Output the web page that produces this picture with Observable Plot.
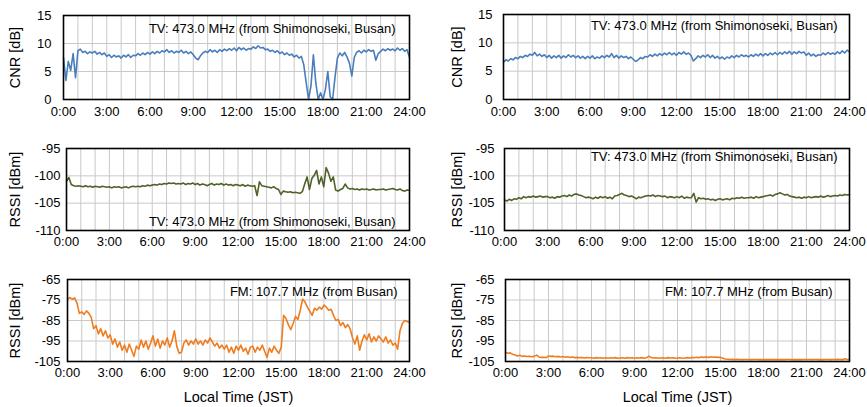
<!DOCTYPE html>
<html>
<head>
<meta charset="utf-8">
<script src="https://cdn.jsdelivr.net/npm/d3@7"></script>
<script src="https://cdn.jsdelivr.net/npm/@observablehq/plot@0.6"></script>
<style>
  html, body { margin: 0; padding: 0; background: #fff; }
  #wrap { position: relative; width: 867px; height: 407px; overflow: hidden; background: #fff; }
  #wrap svg { position: absolute; }
</style>
</head>
<body>
<div id="wrap"></div>
<script>
// ---- Data (10-minute samples, 0:00 .. 24:00) ----
const xTickHours = [0, 3, 6, 9, 12, 15, 18, 21, 24];
const gridHours = [1,2,3,4,5,6,7,8,9,10,11,12,13,14,15,16,17,18,19,20,21,22,23];

const cnrTicks = [0, 5, 10, 15];
const tvRssiTicks = [-110, -105, -100, -95];
const fmRssiTicks = [-105, -95, -85, -75, -65];

const tvLabel = "TV: 473.0 MHz (from Shimonoseki, Busan)";
const fmLabel = "FM: 107.7 MHz (from Busan)";
const cnrTitle = "CNR [dB]";
const rssiTitle = "RSSI [dBm]";
const xTitle = "Local Time (JST)";

// Left column (site 1)
const cnrLeft = [
  7.5, 3.4, 6.8, 5.2, 8.2, 3.9,
  8.7, 9.0, 8.4, 8.6, 8.2, 8.5,
  8.3, 8.6, 8.1, 8.4, 8.0, 8.3,
  7.7, 8.0, 7.5, 7.9, 7.6, 7.8,
  7.4, 7.9, 7.6, 8.0, 7.5, 7.9,
  7.8, 8.2, 7.9, 8.3, 8.0, 8.4,
  8.1, 8.5, 8.2, 8.6, 8.3, 8.7,
  8.5, 8.9, 8.4, 8.7, 8.3, 8.6,
  8.4, 8.8, 8.3, 8.6, 8.2, 8.5,
  8.0, 7.4, 7.1, 7.8, 8.3, 8.6,
  8.4, 8.9, 8.5, 8.8, 8.4, 8.9,
  8.6, 9.0, 8.7, 9.1, 8.8, 9.2,
  8.7, 9.3, 8.9, 9.2, 8.8, 9.1,
  9.0, 9.4, 9.1, 9.6, 9.2, 9.3,
  8.9, 9.0, 8.6, 8.8, 8.4, 8.7,
  8.2, 8.5, 8.0, 8.3, 7.9, 8.1,
  7.6, 7.9, 7.4, 7.7, 6.2, 3.0,
  0.0, 2.5, 8.0, 3.0, 0.0, 1.2,
  0.0, 1.8, 5.0, 0.5, 0.0, 4.0,
  7.4, 8.3, 7.8, 8.4, 7.6, 6.5,
  4.2, 7.5, 8.4, 8.7, 8.3, 8.8,
  8.5, 8.9, 8.6, 8.8, 7.0, 8.2,
  8.6, 9.0, 8.7, 9.1, 8.8, 9.0,
  8.7, 9.2, 8.8, 9.1, 8.6, 8.9,
  7.5
];
const tvRssiLeft = [
  -101.0, -100.3, -101.6, -101.8, -101.9, -101.8,
  -101.9, -102.0, -101.8, -102.0, -101.9, -102.1,
  -101.9, -102.0, -102.1, -101.9, -102.0, -102.1,
  -102.0, -102.2, -102.0, -102.1, -102.0, -102.2,
  -102.1, -102.0, -102.2, -102.0, -101.9, -102.0,
  -101.9, -102.0, -101.8, -101.9, -101.7, -101.8,
  -101.7, -101.6, -101.7, -101.5, -101.6, -101.4,
  -101.5, -101.3, -101.4, -101.3, -101.5, -101.4,
  -101.5, -101.3, -101.6, -101.4, -101.5, -101.3,
  -101.6, -101.4, -101.7, -101.5, -101.6, -101.8,
  -101.6, -101.4, -101.7, -101.5, -101.6, -101.4,
  -101.7, -101.5, -101.7, -101.6, -101.8, -101.6,
  -101.7, -101.8, -101.6, -101.9, -101.7, -101.8,
  -101.9, -101.8, -103.6, -101.1, -101.8, -101.9,
  -102.0, -102.1, -102.2, -102.0, -102.3, -102.5,
  -103.4, -102.8, -102.9, -103.0, -102.9, -103.1,
  -103.0, -103.1, -103.2, -102.9, -101.5, -100.2,
  -102.5, -100.5, -99.9, -99.0, -101.5, -100.2,
  -102.0, -98.5, -99.5, -101.0, -100.2, -102.6,
  -102.8, -102.5, -102.3, -101.5, -102.2, -102.4,
  -102.3, -102.5, -102.4, -102.6, -102.4, -102.5,
  -102.4, -102.6, -102.5, -102.4, -102.6, -102.5,
  -102.5, -102.4, -102.6, -102.5, -102.4, -102.3,
  -102.5, -102.6, -102.4, -102.7, -102.8, -102.6,
  -102.7
];
const fmRssiLeft = [
  -74.5, -73.8, -74.6, -74.0, -76.5, -81.5,
  -80.8, -82.0, -80.3, -81.5, -83.5, -89.0,
  -87.5, -91.5, -89.0, -92.5, -90.0, -93.5,
  -92.0, -96.5, -94.0, -98.0, -95.5, -99.5,
  -97.0, -100.5, -96.5, -99.5, -102.5, -97.5,
  -99.0, -94.5, -98.0, -95.0, -99.0, -96.0,
  -92.5, -97.5, -94.0, -98.5, -95.0, -97.0,
  -93.5, -98.0, -95.0, -90.0, -97.5, -101.0,
  -100.5, -96.0, -94.5, -97.0, -95.0, -96.5,
  -94.0, -96.5, -95.0, -97.0, -94.5, -96.0,
  -93.5, -95.5, -97.5, -96.0, -98.5, -97.0,
  -99.0, -97.0, -100.5, -98.0, -101.0, -97.5,
  -99.5, -97.0, -100.0, -98.5, -101.5, -98.0,
  -97.5, -100.5, -98.0, -99.5, -97.0, -100.0,
  -103.0, -98.5, -100.5, -97.5, -99.5, -101.0,
  -98.0, -82.5, -84.0, -87.0, -89.5, -86.5,
  -83.0, -84.5, -80.0, -74.5, -76.0, -78.5,
  -80.5, -82.5, -79.0, -80.0, -78.5, -79.5,
  -77.5, -78.5, -80.0, -79.5, -82.5, -85.0,
  -84.5, -87.5, -86.0, -88.5, -87.0, -89.0,
  -93.5, -96.5, -92.5, -99.5, -95.0, -92.0,
  -94.5, -91.5, -95.5, -93.0, -95.0, -92.5,
  -94.0, -95.5, -93.0, -96.0, -94.5, -97.0,
  -96.0, -99.0, -90.0, -86.5, -85.0, -85.5,
  -86.0
];

// Right column (site 2)
const cnrRight = [
  6.6, 7.0, 6.8, 7.2, 7.0, 7.4,
  7.2, 7.6, 7.4, 7.8, 7.6, 8.0,
  7.8, 8.3, 7.7, 8.0, 7.6, 7.9,
  7.4, 7.8, 7.3, 7.7, 7.4, 7.8,
  7.3, 7.7, 7.4, 7.9, 7.5, 7.8,
  7.4, 7.7, 7.3, 7.6, 7.2, 7.6,
  7.3, 7.7, 7.2, 7.5, 7.3, 7.7,
  7.4, 7.8, 7.5, 8.1, 7.4, 7.8,
  7.3, 7.7, 7.4, 7.6, 7.2, 7.5,
  7.1, 6.7, 7.0, 7.4, 7.2, 7.6,
  7.5, 7.9, 7.6, 8.0, 7.7, 8.1,
  7.8, 8.2, 7.9, 8.3, 7.9, 8.2,
  7.8, 8.3, 8.0, 8.4, 8.0, 8.2,
  7.8, 6.8, 7.2, 7.7, 7.4, 7.8,
  7.5, 7.9, 7.4, 7.8, 7.3, 7.6,
  7.2, 7.5, 7.1, 7.5, 7.3, 7.7,
  7.4, 7.8, 7.5, 7.9, 7.6, 7.8,
  7.5, 7.9, 7.6, 8.0, 7.7, 8.1,
  7.7, 8.1, 7.8, 8.2, 7.9, 8.3,
  7.9, 8.3, 8.0, 8.4, 8.1, 8.5,
  8.0, 8.4, 8.1, 8.5, 8.2, 8.4,
  7.8, 8.2, 7.7, 8.0, 7.6, 7.9,
  7.8, 8.2, 7.9, 8.3, 8.0, 8.2,
  8.0, 8.4, 8.1, 8.6, 8.2, 8.7,
  8.4
];
const tvRssiRight = [
  -104.4, -104.6, -104.3, -104.5, -104.2, -104.3,
  -104.0, -104.2, -103.8, -104.0, -103.8, -103.9,
  -103.7, -103.9, -103.8, -103.7, -103.9, -103.8,
  -103.8, -104.0, -103.9, -104.1, -103.8, -103.9,
  -103.7, -103.6, -103.8, -103.5, -103.7, -103.4,
  -103.3, -103.5, -103.6, -103.8, -104.0, -103.9,
  -104.0, -104.2, -103.9, -104.1, -103.8, -104.0,
  -103.8, -104.1, -103.9, -104.2, -103.7, -103.6,
  -103.4, -103.2, -103.5, -103.6, -103.8, -103.7,
  -103.9, -104.2, -103.9, -104.0, -103.8, -103.7,
  -103.6, -103.7, -103.5, -103.8, -103.6, -103.7,
  -103.8, -103.7, -104.0, -103.8, -103.9, -104.0,
  -103.8, -104.0, -103.7, -104.1, -103.9, -104.0,
  -104.0, -103.2, -104.8, -104.0, -104.2, -104.1,
  -104.3, -104.2, -104.4, -104.3, -104.5, -104.3,
  -104.2, -104.4, -104.3, -104.2, -104.4, -104.1,
  -104.2, -104.0, -104.1, -103.9, -104.1, -104.0,
  -104.0, -103.9, -104.1, -103.8, -104.0, -103.9,
  -103.8, -103.7, -103.6, -103.5, -103.7, -103.4,
  -103.3, -103.1, -103.3, -103.5, -103.4, -103.7,
  -103.8, -103.9, -104.0, -103.9, -104.1, -103.9,
  -104.0, -103.8, -104.0, -103.9, -103.8, -103.9,
  -103.7, -103.9, -103.8, -103.6, -103.8, -103.7,
  -103.6, -103.7, -103.5, -103.6, -103.4, -103.5,
  -103.4
];
const fmRssiRight = [
  -100.5, -101.0, -100.8, -101.5, -101.8, -102.3,
  -102.0, -102.5, -102.3, -102.6, -102.4, -102.7,
  -102.5, -101.9, -102.8, -103.0, -102.9, -103.1,
  -102.3, -102.5, -102.4, -102.7, -102.5, -102.8,
  -102.6, -102.9, -102.7, -103.0, -102.8, -103.1,
  -103.0, -103.2, -103.0, -103.3, -103.1, -103.2,
  -103.2, -103.4, -103.1, -103.3, -103.2, -103.4,
  -103.2, -103.4, -103.2, -103.3, -103.1, -103.4,
  -103.3, -103.2, -103.4, -103.1, -103.3, -103.2,
  -103.4, -103.2, -103.3, -103.1, -103.4, -103.2,
  -102.4, -103.1, -103.3, -103.2, -103.4, -103.3,
  -103.2, -103.4, -103.1, -103.3, -103.2, -103.4,
  -103.3, -103.2, -103.4, -103.3, -103.1, -103.3,
  -103.0, -103.2, -102.9, -103.1, -102.8, -103.0,
  -102.8, -103.0, -102.7, -102.9, -102.8, -103.0,
  -103.0, -103.4, -103.8, -103.9, -104.0, -103.9,
  -104.0, -103.9, -104.0, -104.1, -104.0, -104.0,
  -104.0, -104.1, -104.0, -104.0, -104.1, -104.0,
  -104.1, -104.0, -104.1, -104.1, -104.0, -104.1,
  -104.0, -104.1, -104.0, -104.1, -104.0, -104.0,
  -104.1, -104.0, -104.1, -104.0, -104.1, -104.0,
  -104.0, -104.0, -104.1, -104.0, -104.0, -104.1,
  -104.0, -104.1, -104.0, -104.0, -104.1, -104.0,
  -104.0, -103.9, -104.0, -104.1, -103.7, -104.0,
  -104.0
];

const blue = "#4a7ebb", olive = "#4f6228", orange = "#ef7d1f";
const gridColor = "#c9c9c9";
const fontFamily = "Arial, 'Liberation Sans', sans-serif";

function panel(cfg) {
  const rows = cfg.values.map((v, i) => ({t: i / 6, v}));
  const marks = [
    Plot.ruleX(gridHours, {stroke: gridColor, strokeWidth: 1}),
    Plot.ruleY(cfg.ticks, {stroke: gridColor, strokeWidth: 1}),
    Plot.lineY(rows, {x: "t", y: "v", stroke: cfg.color, strokeWidth: 1.6}),
    Plot.text([cfg.label], {
      frameAnchor: cfg.labelBottom ? "bottom-right" : "top-right",
      lineAnchor: cfg.labelBottom ? "bottom" : "top",
      textAnchor: "end",
      dx: cfg.labelDx, dy: cfg.labelDy,
      fontSize: 13, fill: "#000"
    }),
    Plot.text([cfg.yTitle], {
      frameAnchor: "left", rotate: -90, textAnchor: "middle", lineAnchor: "middle",
      dx: cfg.yTitleDx, fontSize: 14.5, fill: "#000"
    }),
    Plot.frame({stroke: "#000", strokeWidth: 1.6})
  ];
  if (cfg.xTitle) {
    marks.push(Plot.text([cfg.xTitle], {
      frameAnchor: "bottom", lineAnchor: "middle", dy: 36, fontSize: 14.5, fill: "#000"
    }));
  }
  const svg = Plot.plot({
    width: cfg.width, height: cfg.height,
    marginLeft: cfg.ml, marginRight: cfg.mr, marginTop: cfg.mt, marginBottom: cfg.mb,
    style: {fontFamily, fontSize: "13px", color: "#000", background: "transparent", overflow: "visible"},
    x: {domain: [0, 24], ticks: xTickHours, tickFormat: h => h + ":00", tickSize: 0, tickPadding: cfg.xPad || 6, label: null},
    y: {domain: cfg.domain, ticks: cfg.ticks, tickFormat: d => String(d), tickSize: 0, tickPadding: cfg.yPad, label: null},
    marks
  });
  svg.style.left = cfg.left + "px";
  svg.style.top = cfg.top + "px";
  document.getElementById("wrap").appendChild(svg);
}

// Row 1: CNR
panel({values: cnrLeft, color: blue, ticks: cnrTicks, domain: [0, 15], label: tvLabel, yTitle: cnrTitle,
  left: 0, top: 0, width: 433, height: 135, ml: 63, mr: 24, mt: 15, mb: 36, yPad: 12, xPad: 7,
  labelDx: -14, labelDy: 8, yTitleDx: -48});
panel({values: cnrRight, color: blue, ticks: cnrTicks, domain: [0, 15], label: tvLabel, yTitle: cnrTitle,
  left: 433, top: 0, width: 434, height: 135, ml: 70, mr: 18, mt: 14, mb: 36, yPad: 11, xPad: 7,
  labelDx: -12, labelDy: 6, yTitleDx: -46});
// Row 2: TV RSSI
panel({values: tvRssiLeft, color: olive, ticks: tvRssiTicks, domain: [-110, -95], label: tvLabel, yTitle: rssiTitle,
  labelBottom: true,
  left: 0, top: 135, width: 433, height: 135, ml: 66, mr: 24, mt: 13, mb: 40, yPad: 6,
  labelDx: -14, labelDy: -5, yTitleDx: -51});
panel({values: tvRssiRight, color: olive, ticks: tvRssiTicks, domain: [-110, -95], label: tvLabel, yTitle: rssiTitle,
  left: 433, top: 135, width: 434, height: 135, ml: 71, mr: 18, mt: 13, mb: 40, yPad: 10,
  labelDx: -12, labelDy: 3, yTitleDx: -47});
// Row 3: FM RSSI
panel({values: fmRssiLeft, color: orange, ticks: fmRssiTicks, domain: [-105, -65], label: fmLabel, yTitle: rssiTitle,
  xTitle,
  left: 0, top: 270, width: 433, height: 137, ml: 67, mr: 24, mt: 9, mb: 46, yPad: 7,
  labelDx: -12, labelDy: 7, yTitleDx: -52});
panel({values: fmRssiRight, color: orange, ticks: fmRssiTicks, domain: [-105, -65], label: fmLabel, yTitle: rssiTitle,
  xTitle,
  left: 433, top: 270, width: 434, height: 137, ml: 72, mr: 18, mt: 9, mb: 46, yPad: 11,
  labelDx: -17, labelDy: 7, yTitleDx: -48});
</script>
</body>
</html>
